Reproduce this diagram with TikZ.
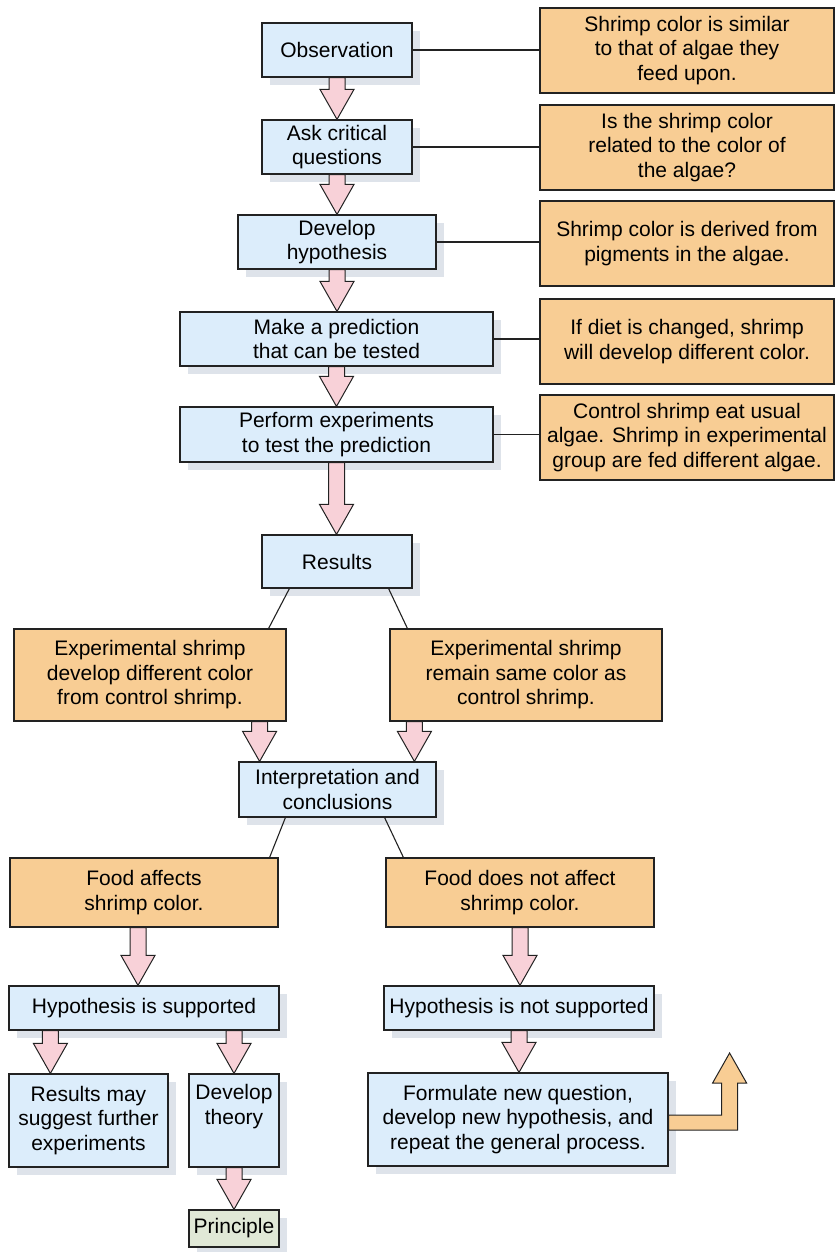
\documentclass[tikz,border=0pt]{standalone}
\usepackage{fontspec}
\setmainfont{Liberation Sans}
\usetikzlibrary{calc,shadows}
\definecolor{bluef}{HTML}{DCEDFB}
\definecolor{orangef}{HTML}{F8CD94}
\definecolor{pinkf}{HTML}{F8D1D8}
\definecolor{princf}{HTML}{E0E8D6}
\definecolor{shadowc}{HTML}{DEE3EA}
\definecolor{edge}{HTML}{222222}
\newcommand\barrow[2]{%
  \draw[parrow] let \p1=(#1), \p2=(#2) in
    (\x1-8pt,\y1) -- (\x1-8pt,\y2+30pt) -- (\x1-17pt,\y2+30pt) -- (\x1,\y2)
    -- (\x1+17pt,\y2+30pt) -- (\x1+8pt,\y2+30pt) -- (\x1+8pt,\y1) -- cycle;}
\begin{document}
\begin{tikzpicture}[x=1pt,y=-1pt,
  every node/.style={font=\fontsize{21}{24.5}\selectfont, align=center, inner sep=0pt, text=black},
  bbox/.style={draw=edge, line width=1.2pt, fill=bluef,
    drop shadow={shadow xshift=8pt,shadow yshift=-8pt,fill=shadowc,opacity=1}},
  obox/.style={draw=edge, line width=1.2pt, fill=orangef},
  pbox/.style={bbox, fill=princf},
  conn/.style={draw=edge, line width=1.1pt},
  parrow/.style={draw=edge, line width=1pt, fill=pinkf, line join=miter},
  oarrow/.style={draw=edge, line width=1pt, fill=orangef, line join=miter},
]
\useasboundingbox (0,0) rectangle (835,1252);

% main column
\node[bbox, minimum width=150pt, minimum height=54pt] (obs) at (337,50) {Observation};
\node[bbox, minimum width=150pt, minimum height=54pt] (ask) at (337,147) {Ask critical\\questions};
\node[bbox, minimum width=198pt, minimum height=54pt] (hyp) at (337,242) {Develop\\hypothesis};
\node[bbox, minimum width=313pt, minimum height=54pt] (pred) at (336.5,339) {Make a prediction\\that can be tested};
\node[bbox, minimum width=313pt, minimum height=55pt] (perf) at (336.5,434.5) {Perform experiments\\to test the prediction};
\node[bbox, minimum width=150pt, minimum height=53pt] (res) at (337,561.5) {Results};

% right column
\node[obox, minimum width=294pt, minimum height=85pt] (o1) at (687,50.5) {Shrimp color is similar\\to that of algae they\\feed upon.};
\node[obox, minimum width=294pt, minimum height=85pt] (o2) at (687,147.5) {Is the shrimp color\\related to the color of\\the algae?};
\node[obox, minimum width=294pt, minimum height=85pt] (o3) at (687,243.5) {Shrimp color is derived from\\pigments in the algae.};
\node[obox, minimum width=294pt, minimum height=85pt] (o4) at (687,341.5) {If diet is changed, shrimp\\will develop different color.};
\node[obox, minimum width=294pt, minimum height=85pt] (o5) at (687,437.5) {Control shrimp eat usual\\algae. Shrimp in experimental\\group are fed different algae.};

% results
\node[obox, minimum width=272pt, minimum height=92pt] (expL) at (150,675) {Experimental shrimp\\develop different color\\from control shrimp.};
\node[obox, minimum width=272pt, minimum height=92pt] (expR) at (526,675) {Experimental shrimp\\remain same color as\\control shrimp.};
\node[bbox, minimum width=197pt, minimum height=55pt] (interp) at (337.5,789.5) {Interpretation and\\conclusions};
\node[obox, minimum width=268pt, minimum height=69pt] (foodY) at (144,892.5) {Food affects\\shrimp color.};
\node[obox, minimum width=268pt, minimum height=69pt] (foodN) at (520,892.5) {Food does not affect\\shrimp color.};
\node[bbox, minimum width=270pt, minimum height=44pt] (supp) at (144,1008) {Hypothesis is supported};
\node[bbox, minimum width=270pt, minimum height=44pt] (nsupp) at (519,1008) {Hypothesis is not supported};
\node[bbox, minimum width=159pt, minimum height=93pt] (further) at (88.5,1120.5) {Results may\\suggest further\\experiments};
\node[bbox, minimum width=90pt, minimum height=93pt] (theory) at (234,1120.5) {Develop\\theory\\\strut};
\node[pbox, minimum width=90pt, minimum height=37pt] (princ) at (234,1228.5) {Principle};
\node[bbox, minimum width=300pt, minimum height=93pt] (form) at (518,1119.5) {Formulate new question,\\develop new hypothesis, and\\repeat the general process.};

% horizontal connectors
\foreach \a/\b in {obs/o1, ask/o2, hyp/o3, pred/o4, perf/o5}
  \draw[conn] (\a.east) -- (\a.east -| \b.west);

% diagonal connectors
\draw[conn] ($(res.south west)+(28,0)$) -- ($(expL.north east)+(-18,0)$);
\draw[conn] ($(res.south east)+(-24,0)$) -- ($(expR.north west)+(18,0)$);
\draw[conn] ($(interp.south west)+(47,0)$) -- ($(foodY.north east)+(-9,0)$);
\draw[conn] ($(interp.south east)+(-52,0)$) -- ($(foodN.north west)+(18,0)$);

% block arrows
\barrow{obs.south}{ask.north}
\barrow{ask.south}{hyp.north}
\barrow{hyp.south}{pred.north}
\barrow{pred.south}{perf.north}
\barrow{perf.south}{res.north}
\barrow{$(expL.south east)+(-27,0)$}{interp.north}
\barrow{$(expR.south west)+(25,0)$}{interp.north}
\barrow{$(foodY.south)+(-6,0)$}{supp.north}
\barrow{foodN.south}{nsupp.north}
\barrow{$(supp.south west)+(42,0)$}{further.north}
\barrow{supp.south -| theory.north}{theory.north}
\barrow{theory.south}{princ.north}
\barrow{nsupp.south}{form.north}

% return arrow
\begin{scope}[shift={(form.east)}]
\draw[oarrow] (0,-4.5) -- (53,-4.5) -- (53,-36.5) -- (44,-36.5) -- (61,-66.5)
  -- (78,-36.5) -- (69,-36.5) -- (69,10.5) -- (0,10.5) -- cycle;
\end{scope}
\end{tikzpicture}
\end{document}
